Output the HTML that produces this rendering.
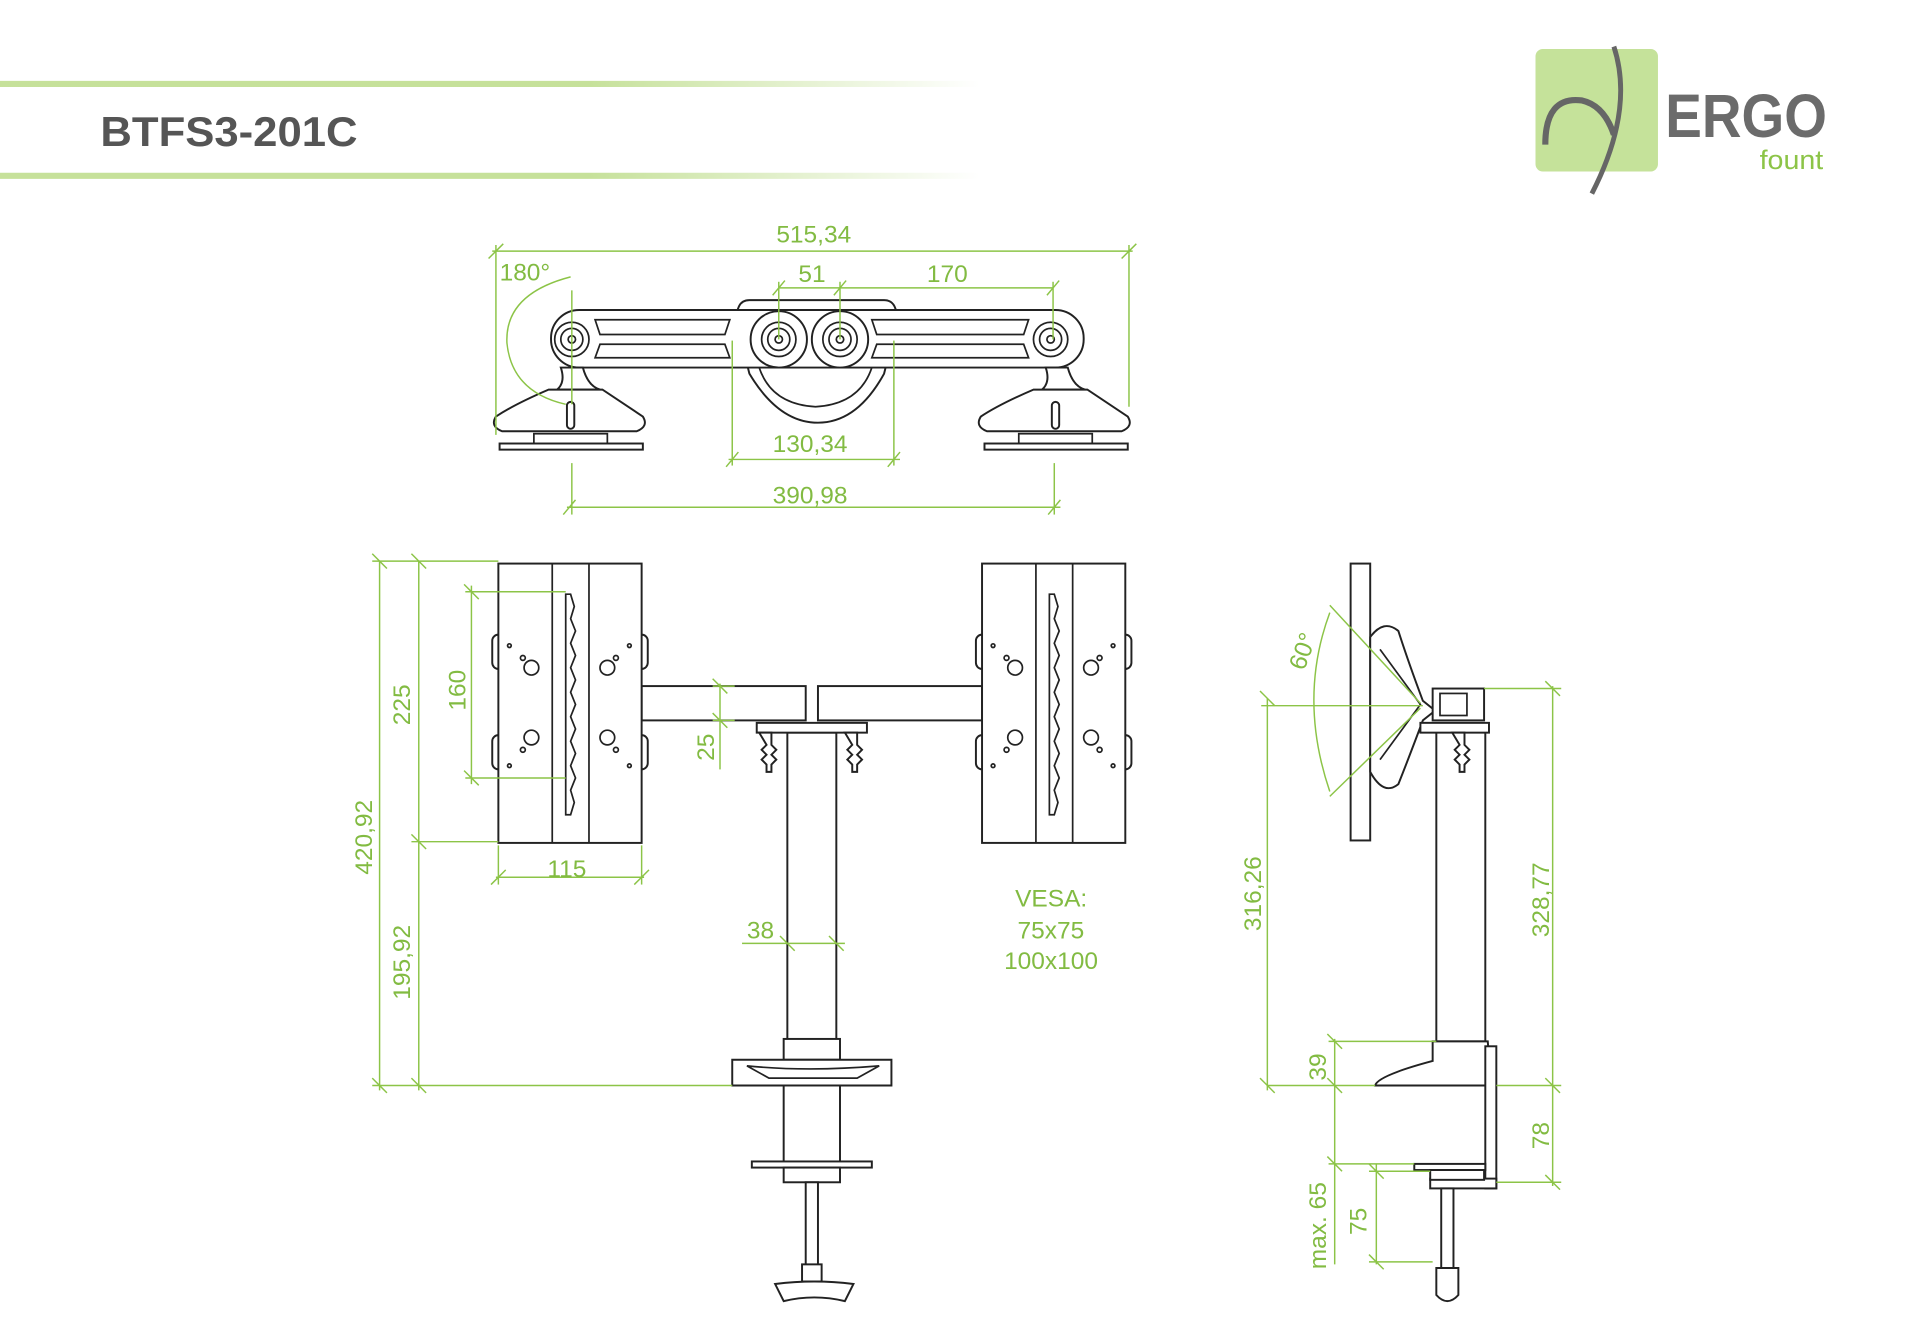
<!DOCTYPE html>
<html><head><meta charset="utf-8"><style>
html,body{margin:0;padding:0;background:#fff;}
svg{display:block;}
.d{stroke:#8cc447;stroke-width:1.2;fill:none}
.t{fill:#82bb42;font-family:"Liberation Sans",sans-serif;font-size:20px}
.k{stroke:#222;stroke-width:1.6;fill:#fff}
.kn{stroke:#222;stroke-width:1.4;fill:none}
</style></head><body>
<svg width="1920" height="1344" viewBox="0 0 1568 1097" preserveAspectRatio="none" xmlns="http://www.w3.org/2000/svg">
<defs>
<linearGradient id="g" x1="0" x2="1"><stop offset="0" stop-color="#c6e19a"/><stop offset="0.6" stop-color="#c6e19a"/><stop offset="1" stop-color="#fff"/></linearGradient>
</defs>
<rect x="0" y="66" width="800" height="5" fill="url(#g)"/>
<rect x="0" y="141" width="800" height="5" fill="url(#g)"/>
<text x="82" y="119" font-family="Liberation Sans,sans-serif" font-weight="bold" font-size="34" fill="#555" textLength="210" lengthAdjust="spacingAndGlyphs">BTFS3-201C</text>
<rect x="1254" y="40" width="100" height="100" rx="6" fill="#c5e29a"/>
<path d="M1262 118 Q1262 78 1292 82 Q1310 86 1318 110" stroke="#666" stroke-width="5" fill="none"/>
<path d="M1318 38 Q1335 90 1300 158" stroke="#666" stroke-width="4" fill="none"/>
<text x="1360" y="112" font-family="Liberation Sans,sans-serif" font-weight="bold" font-size="50" fill="#6b6b6b" textLength="132" lengthAdjust="spacingAndGlyphs">ERGO</text>
<text x="1437" y="138" font-family="Liberation Sans,sans-serif" font-size="22" fill="#8cc447" textLength="52" lengthAdjust="spacingAndGlyphs">fount</text>

<path class="k" d="M602 265 Q600 245 612 245 L722 245 Q734 245 732 265 L722 305 Q700 345 668 345 Q636 345 612 305 Z"/>
<path class="kn" d="M620 300 Q630 330 666 332 Q702 330 712 300"/>
<rect class="k" x="450" y="253" width="435" height="47" rx="23"/>
<circle class="k" cx="636" cy="277" r="23"/><circle class="k" cx="686" cy="277" r="23"/>
<g class="kn">
<path d="M486 261 L596 261 L592 273 L490 273 Z"/><path d="M490 281 L592 281 L596 292 L486 292 Z"/>
<path d="M712 261 L840 261 L836 273 L716 273 Z"/><path d="M716 281 L836 281 L840 292 L712 292 Z"/>
</g>
<g class="kn">
<circle cx="467" cy="277" r="14"/><circle cx="467" cy="277" r="9"/><circle cx="467" cy="277" r="3"/>
<circle cx="636" cy="277" r="14"/><circle cx="636" cy="277" r="9"/><circle cx="636" cy="277" r="3"/>
<circle cx="686" cy="277" r="14"/><circle cx="686" cy="277" r="9"/><circle cx="686" cy="277" r="3"/>
<circle cx="858" cy="277" r="14"/><circle cx="858" cy="277" r="9"/><circle cx="858" cy="277" r="3"/>
</g>
<g id="foot">
<path class="k" d="M458 300 L476 300 Q480 315 490 318 L455 318 Q462 312 458 300Z"/>
<path class="k" d="M448 318 L492 318 Q510 330 525 340 Q530 348 520 352 L410 352 Q400 348 405 340 Q420 330 448 318Z"/>
<rect class="kn" x="436" y="354" width="60" height="12"/>
<rect class="k" x="408" y="362" width="117" height="5"/>
<rect class="k" x="463" y="328" width="6" height="22" rx="3"/>
</g>
<use href="#foot" x="396"/>

<g class="d">
<line x1="402" y1="205" x2="925" y2="205"/><line x1="405" y1="200" x2="405" y2="355"/><line x1="922" y1="200" x2="922" y2="332"/>
<line x1="399" y1="211" x2="411" y2="199"/><line x1="916" y1="211" x2="928" y2="199"/>
<line x1="636" y1="235" x2="860" y2="235"/><line x1="636" y1="230" x2="636" y2="277"/><line x1="686" y1="230" x2="686" y2="277"/><line x1="860" y1="230" x2="860" y2="277"/>
<line x1="631" y1="241" x2="641" y2="229"/><line x1="681" y1="241" x2="691" y2="229"/><line x1="855" y1="241" x2="865" y2="229"/>
<line x1="595" y1="375" x2="735" y2="375"/><line x1="598" y1="278" x2="598" y2="380"/><line x1="730" y1="278" x2="730" y2="380"/>
<line x1="593" y1="381" x2="603" y2="369"/><line x1="725" y1="381" x2="735" y2="369"/>
<line x1="463" y1="414" x2="866" y2="414"/><line x1="467" y1="378" x2="467" y2="420"/><line x1="861" y1="378" x2="861" y2="420"/>
<line x1="460" y1="420" x2="470" y2="408"/><line x1="856" y1="420" x2="866" y2="408"/>
<line x1="467" y1="237" x2="467" y2="330"/>
<path d="M466 226 Q412 240 414 280 Q418 320 462 330"/>
</g>
<text class="t" x="634" y="198">515,34</text>
<text class="t" x="408" y="229">180°</text>
<text class="t" x="652" y="230">51</text>
<text class="t" x="757" y="230">170</text>
<text class="t" x="631" y="369">130,34</text>
<text class="t" x="631" y="411">390,98</text>

<rect class="k" x="524" y="560" width="134" height="28"/>
<rect class="k" x="668" y="560" width="134" height="28"/>
<rect class="k" x="643" y="598" width="40" height="262"/>
<rect class="k" x="618" y="590" width="90" height="8"/>
<path class="k" d="M620 598 h10 v10 l4 4 l-4 4 l4 4 l-4 4 v6 h-4 v-6 l-4 -4 l4 -4 l-4 -4 l4 -4Z"/>
<path class="k" d="M690 598 h10 v10 l4 4 l-4 4 l4 4 l-4 4 v6 h-4 v-6 l-4 -4 l4 -4 l-4 -4 l4 -4Z"/>
<g id="mon">
<rect class="k" x="402" y="518" width="10" height="28" rx="5"/><rect class="k" x="519" y="518" width="10" height="28" rx="5"/>
<rect class="k" x="402" y="600" width="10" height="28" rx="5"/><rect class="k" x="519" y="600" width="10" height="28" rx="5"/>
<rect class="k" x="407" y="460" width="117" height="228"/>
<line class="kn" x1="451" y1="460" x2="451" y2="688"/><line class="kn" x1="481" y1="460" x2="481" y2="688"/>
<path class="kn" d="M462 485 L466 485 L469 495 L466 505 L470 515 L466 525 L470 535 L466 545 L470 555 L466 565 L470 575 L466 585 L470 595 L466 605 L470 615 L466 625 L470 635 L466 645 L469 655 L466 665 L462 665 Z"/>
<g class="kn"><circle cx="434" cy="545" r="6"/><circle cx="496" cy="545" r="6"/><circle cx="434" cy="602" r="6"/><circle cx="496" cy="602" r="6"/>
<circle cx="427" cy="537" r="2"/><circle cx="503" cy="537" r="2"/><circle cx="427" cy="612" r="2"/><circle cx="503" cy="612" r="2"/>
<circle cx="416" cy="527" r="1.5"/><circle cx="514" cy="527" r="1.5"/><circle cx="416" cy="625" r="1.5"/><circle cx="514" cy="625" r="1.5"/></g>
</g>
<use href="#mon" x="395"/>
<rect class="k" x="640" y="848" width="46" height="17"/>
<path class="k" d="M598 865 L728 865 L728 886 L598 886 Z"/>
<path class="kn" d="M610 870 Q660 875 718 870 L700 880 L628 880 Z"/>
<rect class="k" x="640" y="886" width="46" height="66"/>
<rect class="k" x="614" y="948" width="98" height="5"/>
<rect class="k" x="640" y="953" width="46" height="12"/>
<rect class="k" x="658" y="965" width="10" height="70"/>
<rect class="k" x="655" y="1032" width="16" height="14"/>
<path class="k" d="M633 1048 Q665 1044 697 1048 L690 1062 Q665 1056 640 1062 Z"/>

<g class="d">
<line x1="310" y1="458" x2="310" y2="890"/><line x1="342" y1="458" x2="342" y2="890"/>
<line x1="304" y1="458" x2="407" y2="458"/><line x1="336" y1="687" x2="407" y2="687"/><line x1="304" y1="886" x2="598" y2="886"/>
<line x1="304" y1="452" x2="316" y2="464"/><line x1="336" y1="452" x2="348" y2="464"/><line x1="336" y1="681" x2="348" y2="693"/>
<line x1="304" y1="880" x2="316" y2="892"/><line x1="336" y1="880" x2="348" y2="892"/>
<line x1="385" y1="478" x2="385" y2="640"/><line x1="380" y1="483" x2="462" y2="483"/><line x1="380" y1="635" x2="462" y2="635"/>
<line x1="379" y1="477" x2="391" y2="489"/><line x1="379" y1="629" x2="391" y2="641"/>
<line x1="405" y1="716" x2="526" y2="716"/><line x1="407" y1="690" x2="407" y2="722"/><line x1="524" y1="690" x2="524" y2="722"/>
<line x1="401" y1="722" x2="413" y2="710"/><line x1="518" y1="722" x2="530" y2="710"/>
<line x1="588" y1="558" x2="588" y2="628"/><line x1="582" y1="560" x2="600" y2="560"/><line x1="582" y1="588" x2="600" y2="588"/>
<line x1="582" y1="554" x2="594" y2="566"/><line x1="582" y1="582" x2="594" y2="594"/>
<line x1="606" y1="770" x2="690" y2="770"/><line x1="637" y1="764" x2="649" y2="776"/><line x1="677" y1="764" x2="689" y2="776"/>
</g>
<text class="t" transform="translate(335,592) rotate(-90)">225</text>
<text class="t" transform="translate(304,714) rotate(-90)">420,92</text>
<text class="t" transform="translate(335,816) rotate(-90)">195,92</text>
<text class="t" transform="translate(380,580) rotate(-90)">160</text>
<text class="t" transform="translate(583,621) rotate(-90)">25</text>
<text class="t" x="447" y="716">115</text>
<text class="t" x="610" y="766">38</text>
<text class="t" x="829" y="740">VESA:</text>
<text class="t" x="831" y="766">75x75</text>
<text class="t" x="820" y="791">100x100</text>

<rect class="k" x="1103" y="460" width="16" height="226"/>
<path class="k" d="M1119 520 Q1130 505 1142 515 Q1150 540 1162 572 L1172 580 L1162 588 Q1150 620 1142 640 Q1130 650 1119 630 Z"/>
<path class="kn" d="M1127 530 L1160 575 L1127 620"/>
<rect class="k" x="1170" y="562" width="42" height="26"/>
<rect class="kn" x="1176" y="566" width="22" height="18"/>
<rect class="k" x="1173" y="596" width="40" height="254"/>
<rect class="k" x="1160" y="590" width="56" height="8"/>
<path class="k" d="M1186 598 h10 v10 l4 4 l-4 4 l4 4 l-4 4 v6 h-4 v-6 l-4 -4 l4 -4 l-4 -4 l4 -4Z"/>
<path class="k" d="M1170 850 L1215 850 L1218 886 L1123 886 Q1125 878 1170 866 Z"/>
<rect class="k" x="1213" y="854" width="9" height="116"/>
<rect class="k" x="1168" y="962" width="54" height="8"/>
<rect class="k" x="1155" y="950" width="58" height="5"/>
<rect class="k" x="1168" y="955" width="44" height="8"/>
<rect class="k" x="1177" y="970" width="10" height="65"/>
<path class="k" d="M1173 1035 h18 v22 q-9 10 -18 0 Z"/>

<g class="d">
<path d="M1086 500 Q1060 570 1086 646"/>
<line x1="1030" y1="576" x2="1162" y2="576"/><line x1="1086" y1="494" x2="1160" y2="574"/><line x1="1086" y1="650" x2="1160" y2="578"/>
<line x1="1035" y1="570" x2="1035" y2="890"/><line x1="1029" y1="880" x2="1041" y2="892"/><line x1="1029" y1="564" x2="1041" y2="576"/>
<line x1="1035" y1="886" x2="1123" y2="886"/>
<line x1="1268" y1="560" x2="1268" y2="968"/><line x1="1212" y1="562" x2="1275" y2="562"/><line x1="1222" y1="886" x2="1275" y2="886"/><line x1="1222" y1="965" x2="1275" y2="965"/>
<line x1="1262" y1="556" x2="1274" y2="568"/><line x1="1262" y1="880" x2="1274" y2="892"/><line x1="1262" y1="959" x2="1274" y2="971"/>
<line x1="1090" y1="848" x2="1090" y2="1032"/><line x1="1085" y1="850" x2="1173" y2="850"/><line x1="1085" y1="950" x2="1155" y2="950"/>
<line x1="1084" y1="844" x2="1096" y2="856"/><line x1="1084" y1="880" x2="1096" y2="892"/><line x1="1084" y1="944" x2="1096" y2="956"/>
<line x1="1124" y1="950" x2="1124" y2="1032"/><line x1="1118" y1="956" x2="1168" y2="956"/><line x1="1118" y1="1030" x2="1170" y2="1030"/>
<line x1="1118" y1="950" x2="1130" y2="962"/><line x1="1118" y1="1024" x2="1130" y2="1036"/>
</g>
<text class="t" transform="translate(1065,548) rotate(-70)">60°</text>
<text class="t" transform="translate(1030,760) rotate(-90)">316,26</text>
<text class="t" transform="translate(1265,765) rotate(-90)">328,77</text>
<text class="t" transform="translate(1265,938) rotate(-90)">78</text>
<text class="t" transform="translate(1083,882) rotate(-90)">39</text>
<text class="t" transform="translate(1083,1036) rotate(-90)">max. 65</text>
<text class="t" transform="translate(1116,1008) rotate(-90)">75</text>
</svg>
</body></html>
